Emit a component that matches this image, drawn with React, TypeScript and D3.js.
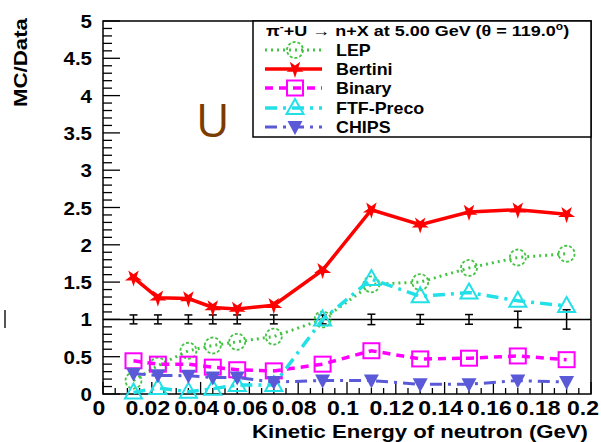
import React from "react";
import * as d3 from "d3";

const xVals = [0.0125, 0.0225, 0.035, 0.045, 0.055, 0.07, 0.09, 0.11, 0.13, 0.15, 0.17, 0.19];
const lep = [0.18, 0.38, 0.58, 0.65, 0.7, 0.77, 1.0, 1.47, 1.5, 1.69, 1.83, 1.88];
const bertini = [1.56, 1.29, 1.28, 1.16, 1.14, 1.19, 1.66, 2.47, 2.27, 2.44, 2.47, 2.41];
const binary = [0.445, 0.4, 0.4, 0.36, 0.325, 0.31, 0.4, 0.58, 0.47, 0.48, 0.51, 0.46];
const ftf = [0.02, 0.08, 0.03, 0.07, 0.12, 0.12, 1.0, 1.54, 1.31, 1.36, 1.25, 1.18];
const chips = [0.27, 0.25, 0.245, 0.22, 0.22, 0.16, 0.18, 0.18, 0.13, 0.13, 0.18, 0.16];
const dataErr = [0.06, 0.06, 0.06, 0.06, 0.06, 0.06, 0.06, 0.07, 0.065, 0.065, 0.11, 0.13];

const xTicks = [0, 0.02, 0.04, 0.06, 0.08, 0.1, 0.12, 0.14, 0.16, 0.18, 0.2];
const xTickLabels = ["0", "0.02", "0.04", "0.06", "0.08", "0.1", "0.12", "0.14", "0.16", "0.18", "0.2"];
const yTicks = [0, 0.5, 1, 1.5, 2, 2.5, 3, 3.5, 4, 4.5, 5];
const yTickLabels = ["0", "0.5", "1", "1.5", "2", "2.5", "3", "3.5", "4", "4.5", "5"];

const seriesNames = ["LEP", "Bertini", "Binary", "FTF-Preco", "CHIPS"];
const FONT = "'Liberation Sans', Arial, sans-serif";

const L = 103, R = 591, T = 21, B = 394;

export default function App() {
  const x = d3.scaleLinear().domain([0, 0.2]).range([L, R]);
  const y = d3.scaleLinear().domain([0, 5]).range([B, T]);

  const seriesDefs = [
    { name: seriesNames[0], vals: lep, color: "#44c444", width: 3, dash: "2,4", marker: "circle" },
    { name: seriesNames[1], vals: bertini, color: "#ff0000", width: 3.5, dash: "", marker: "star" },
    { name: seriesNames[2], vals: binary, color: "#ff00ff", width: 3.5, dash: "8,6", marker: "square" },
    { name: seriesNames[3], vals: ftf, color: "#22e0e8", width: 3.5, dash: "12,6,3,6", marker: "tri" },
    { name: seriesNames[4], vals: chips, color: "#5a5ad8", width: 3, dash: "12,6,3,6", marker: "dtri" },
  ];

  const line = d3
    .line<[number, number]>()
    .x((d) => x(d[0]))
    .y((d) => y(d[1]));

  const starPath = d3.symbol().type(d3.symbolStar).size(90)() || "";

  const marker = (kind: string, color: string, cx: number, cy: number, key: string) => {
    switch (kind) {
      case "circle":
        return (
          <circle key={key} cx={cx} cy={cy} r={8} fill="none" stroke={color} strokeWidth={1.8} strokeDasharray="3,2" />
        );
      case "star":
        return <path key={key} d={starPath} transform={`translate(${cx},${cy}) rotate(180)`} fill={color} />;
      case "square":
        return (
          <rect key={key} x={cx - 8} y={cy - 7.5} width={16} height={15} fill="none" stroke={color} strokeWidth={2} />
        );
      case "tri":
        return (
          <path
            key={key}
            d={`M${cx},${cy - 9} L${cx + 8.5},${cy + 6} L${cx - 8.5},${cy + 6} Z`}
            fill="none"
            stroke={color}
            strokeWidth={2}
          />
        );
      case "dtri":
        return (
          <path key={key} d={`M${cx - 7.5},${cy - 6} L${cx + 7.5},${cy - 6} L${cx},${cy + 8} Z`} fill={color} />
        );
    }
    return null;
  };

  const xMinor = d3.range(0, 0.2001, 0.005);
  const yMinor = d3.range(0, 5.001, 0.1);

  const legendRows = [50, 69, 88, 108, 127];

  return (
    <svg
      width={601}
      height={442}
      style={{ position: "absolute", left: 0, top: 0, background: "#fff" }}
      fontFamily={FONT}
    >
      <rect x={0} y={0} width={601} height={442} fill="#fff" />
      {/* stray mark */}
      <line x1={5} x2={5} y1={310} y2={328} stroke="#555" strokeWidth={2} />

      {/* U label */}
      <text x={196} y={137} fontFamily="'Open Sans', sans-serif" fontSize={46} fill="#7a3c00">
        U
      </text>

      {/* frame */}
      <rect x={L} y={T} width={R - L} height={B - T} fill="none" stroke="#000" strokeWidth={1.5} />

      {/* y ticks */}
      {yMinor.map((v, i) => {
        const major = Math.abs(v * 2 - Math.round(v * 2)) < 1e-6;
        return (
          <line key={"ym" + i} x1={L} x2={L + (major ? 17 : 9)} y1={y(v)} y2={y(v)} stroke="#000" strokeWidth={1.3} />
        );
      })}
      {xMinor.map((v, i) => {
        const major = Math.abs(v * 50 - Math.round(v * 50)) < 1e-6;
        return (
          <line key={"xm" + i} x1={x(v)} x2={x(v)} y1={B} y2={B - (major ? 12 : 6)} stroke="#000" strokeWidth={1.3} />
        );
      })}

      {/* y tick labels */}
      {yTicks.map((v, i) => (
        <text
          key={"yl" + i}
          transform={`translate(92,${y(v) + 7}) scale(1.08,1)`}
          textAnchor="end"
          fontSize={19}
          fontWeight="bold"
        >
          {yTickLabels[i]}
        </text>
      ))}
      {xTicks.map((v, i) => (
        <text
          key={"xl" + i}
          transform={`translate(${Math.min(x(v) - 4, 583)},415) scale(1.15,1)`}
          textAnchor="middle"
          fontSize={20}
          fontWeight="bold"
        >
          {xTickLabels[i]}
        </text>
      ))}

      {/* axis titles */}
      <text
        x={252}
        y={438}
        fontSize={19}
        fontWeight="bold"
        textLength={336}
        lengthAdjust="spacingAndGlyphs"
      >
        Kinetic Energy of neutron (GeV)
      </text>
      <text
        transform="translate(27,107) rotate(-90)"
        fontSize={19}
        fontWeight="bold"
        textLength={89}
        lengthAdjust="spacingAndGlyphs"
      >
        MC/Data
      </text>

      {/* reference line at 1 */}
      <line x1={L} x2={R} y1={y(1)} y2={y(1)} stroke="#000" strokeWidth={1.5} />
      {xVals.map((v, i) => (
        <g key={"eb" + i} stroke="#000" strokeWidth={1.5}>
          <line x1={x(v)} x2={x(v)} y1={y(1 - dataErr[i])} y2={y(1 + dataErr[i])} />
          <line x1={x(v) - 4} x2={x(v) + 4} y1={y(1 - dataErr[i])} y2={y(1 - dataErr[i])} />
          <line x1={x(v) - 4} x2={x(v) + 4} y1={y(1 + dataErr[i])} y2={y(1 + dataErr[i])} />
        </g>
      ))}

      {/* series */}
      {seriesDefs.map((s) => {
        const pts = xVals.map((v, i) => [v, s.vals[i]] as [number, number]);
        return (
          <g key={s.name}>
            <path
              d={line(pts) || ""}
              fill="none"
              stroke={s.color}
              strokeWidth={s.width}
              strokeDasharray={s.dash || undefined}
            />
            {pts.map((p, i) => marker(s.marker, s.color, x(p[0]), y(p[1]), s.name + i))}
          </g>
        );
      })}

      {/* legend */}
      <rect x={253} y={T} width={R - 253} height={137 - T} fill="#fff" stroke="#000" strokeWidth={1.5} />
      <g transform="translate(266,36) scale(1.2,1)">
        <text x={0} y={0} fontSize={15} fontWeight="bold">
          π
          <tspan dy={-6} fontSize={10}>-</tspan>
          <tspan dy={6}>+U → n+X at 5.00 GeV (θ = 119.0</tspan>
          <tspan dy={-6} fontSize={10}>o</tspan>
          <tspan dy={6}>)</tspan>
        </text>
      </g>
      {seriesDefs.map((s, i) => (
        <g key={"lg" + i}>
          <line
            x1={265}
            x2={322}
            y1={legendRows[i]}
            y2={legendRows[i]}
            stroke={s.color}
            strokeWidth={s.width}
            strokeDasharray={s.dash || undefined}
          />
          {marker(s.marker, s.color, 295, legendRows[i], "lm" + i)}
          <text transform={`translate(336,${legendRows[i] + 6}) scale(1.05,1)`} fontSize={17} fontWeight="bold">
            {s.name}
          </text>
        </g>
      ))}
    </svg>
  );
}
